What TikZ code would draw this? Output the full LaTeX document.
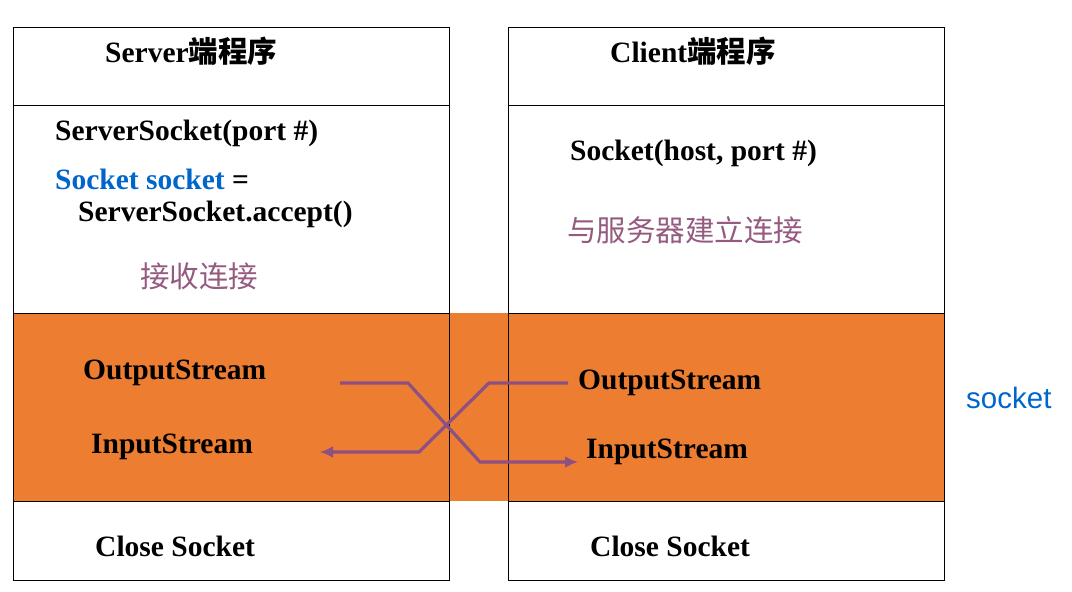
\documentclass[tikz,border=0pt]{standalone}
\usepackage{fontspec}
\setmainfont{Liberation Serif}
\setsansfont{Liberation Sans}
\newfontfamily\cjk{Noto Sans CJK SC}
\usetikzlibrary{arrows.meta,calc,positioning}
\definecolor{bandorange}{HTML}{ED7D31}
\definecolor{codeblue}{HTML}{0066CC}
\definecolor{notepurple}{HTML}{955A80}
\definecolor{flowpurple}{HTML}{8C5082}

\begin{document}
\begin{tikzpicture}[
    x=1pt, y=-1pt,
    font=\fontsize{29.5}{33}\selectfont,
    code/.style={anchor=base west, inner sep=0pt, font=\fontsize{29.5}{33}\selectfont\bfseries},
    note/.style={anchor=base west, inner sep=0pt, text=notepurple, font=\fontsize{29.5}{33}\selectfont\cjk},
    frame/.style={draw=black, line width=1pt},
    flow/.style={-{Latex[length=13pt,width=12pt]}, line width=3.2pt, draw=flowpurple}
  ]
    \useasboundingbox (0,0) rectangle (1072,592);
    \fill[bandorange] (13,313) rectangle (944,501);

    \draw[frame] (13,27) rectangle (449,580);
    \draw[frame] (13,105) -- (449,105) (13,313) -- (449,313) (13,501) -- (449,501);
    \draw[frame] (508,27) rectangle (944,580);
    \draw[frame] (508,105) -- (944,105) (508,313) -- (944,313) (508,501) -- (944,501);

    \node[code] (serverhead) at (105,62) {Server{\cjk 端程序}};
    \node[code] (listen) at (55,140) {ServerSocket(port \#)};
    \node[code] (accept) at (55,189) {\textcolor{codeblue}{Socket socket} =};
    \node[code] (acceptcall) at (78,221) {ServerSocket.accept()};
    \node[note] (acceptnote) at (140,287) {接收连接};
    \node[code] (serverout) at (83,379) {OutputStream};
    \node[code] (serverin) at (91,453) {InputStream};
    \node[code] (serverclose) at (95,556) {Close Socket};

    \node[code] (clienthead) at (610,62) {Client{\cjk 端程序}};
    \node[code] (connect) at (570,160) {Socket(host, port \#)};
    \node[note] (connectnote) at (567,241) {与服务器建立连接};
    \node[code] (clientout) at (578,389) {OutputStream};
    \node[code] (clientin) at (586,458) {InputStream};
    \node[code] (clientclose) at (590,556) {Close Socket};

    \node[anchor=base west, inner sep=0pt, text=codeblue, font=\fontsize{29.5}{33}\selectfont\sffamily] (socketlabel) at (966,408) {socket};

    \coordinate (srvsend) at (340,383);
    \coordinate (srvrecv) at (320,452);
    \coordinate (clisend) at (568,383);
    \coordinate (clirecv) at (578,462);

    \draw[flow] (srvsend) -- (408,383) -- (480,462) -- (clirecv);
    \draw[flow] (clisend) -- (489,383) -- (419,452) -- (srvrecv);
  \end{tikzpicture}
\end{document}
